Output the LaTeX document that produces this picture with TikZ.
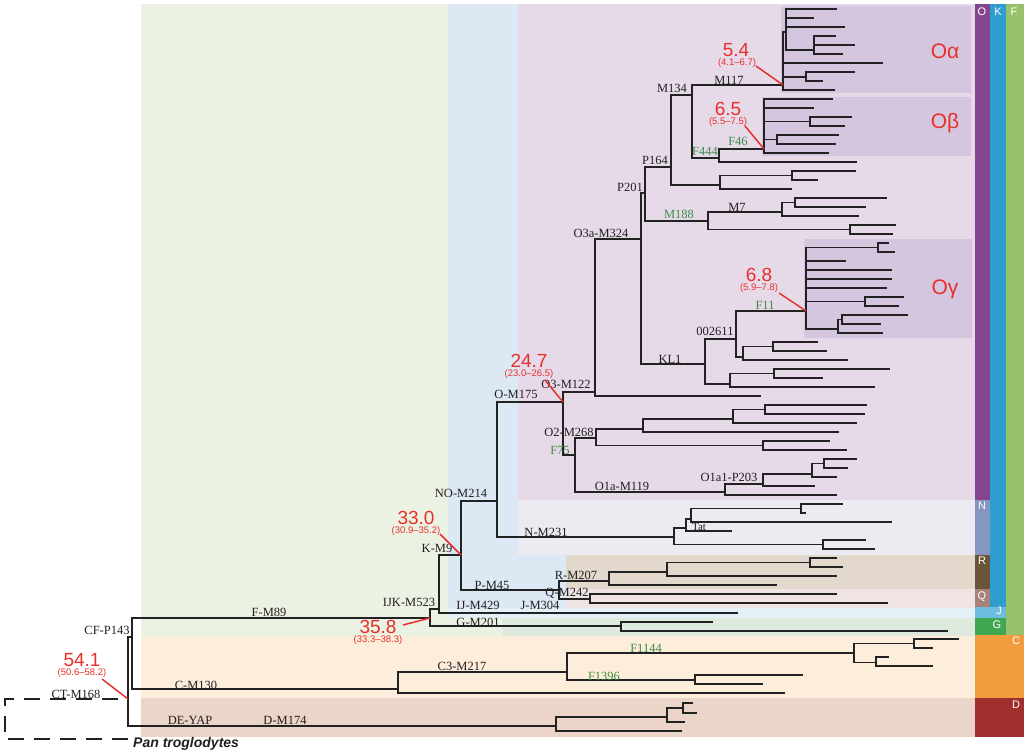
\documentclass[tikz,border=0pt]{standalone}
\usepackage{fontspec}
\setmainfont{Liberation Serif}
\newfontfamily\arialf{Liberation Sans}
\definecolor{bgF}{HTML}{EBF1E3}
\definecolor{bgK}{HTML}{DDE8F5}
\definecolor{bgO}{HTML}{E6DAE9}
\definecolor{bgSub}{HTML}{D5C6DF}
\definecolor{bgN}{HTML}{EBEBF1}
\definecolor{bgR}{HTML}{E2D8CB}
\definecolor{bgQ}{HTML}{EFE4E3}
\definecolor{bgJ}{HTML}{E3F1F7}
\definecolor{bgG}{HTML}{DFEADF}
\definecolor{bgC}{HTML}{FDEEDB}
\definecolor{bgD}{HTML}{EBD5C8}
\definecolor{barO}{HTML}{84468F}
\definecolor{barK}{HTML}{2F9DD0}
\definecolor{barF}{HTML}{98C16B}
\definecolor{barN}{HTML}{8597BE}
\definecolor{barR}{HTML}{6A5538}
\definecolor{barQ}{HTML}{A6827A}
\definecolor{barJ}{HTML}{6DBEDE}
\definecolor{barG}{HTML}{3FA652}
\definecolor{barC}{HTML}{F19C3D}
\definecolor{barD}{HTML}{A0302D}
\definecolor{redc}{HTML}{E8302A}
\definecolor{labg}{HTML}{3E8C45}
\definecolor{labc}{HTML}{231F20}
\definecolor{treec}{HTML}{222222}
\newcounter{lfc}
\newcommand\TNode[3]{\coordinate (#1) at (#2,#3);}
\newcommand\TEdge[2]{\draw[tree] (#1) |- (#2);}
\newcommand\TLeaf[3]{\stepcounter{lfc}\coordinate (leaf\arabic{lfc}) at (#2,#3);\draw[tree] (#1) |- (leaf\arabic{lfc});}
\begin{document}
\begin{tikzpicture}[x=1pt,y=-1pt,
  tree/.style={line width=1.8pt, draw=treec},
  lab/.style={font=\fontsize{12.5}{14}\selectfont, text=labc, inner sep=0pt},
  glab/.style={lab, text=labg},
  datev/.style={font=\arialf\fontsize{19}{20}\selectfont, text=redc, inner sep=0pt},
  dater/.style={font=\arialf\fontsize{9.5}{10}\selectfont, text=redc, inner sep=0pt},
  redln/.style={draw=redc, line width=1.5pt},
  clab/.style={font=\arialf\fontsize{21}{22}\selectfont, text=redc, inner sep=0pt},
  blab/.style={font=\arialf\fontsize{11}{12}\selectfont, text=white, inner sep=0pt},
  dashln/.style={draw=treec, line width=1.8pt, dash pattern=on 16pt off 10pt}]
\useasboundingbox[fill=white] (0,0) rectangle (1024,754);
% backgrounds
\fill[bgF] (141,4) rectangle (975,636);
\fill[bgK] (448,4) rectangle (975,608);
\fill[bgO] (518,4) rectangle (975,500);
\fill[bgN] (518,500) rectangle (975,555);
\fill[bgR] (566,555) rectangle (975,589);
\fill[bgQ] (566,589) rectangle (975,608);
\fill[bgJ] (448,608) rectangle (975,618);
\fill[bgG] (502,618) rectangle (975,636);
\fill[bgC] (141,636) rectangle (975,698);
\fill[bgD] (141,698) rectangle (975,737);
\fill[bgSub] (781,6) rectangle (971,93);
\fill[bgSub] (762,97) rectangle (971,156);
\fill[bgSub] (804,239) rectangle (972,338);
% side bars
\fill[barO] (975,4) rectangle (990,500);
\fill[barN] (975,500) rectangle (990,555);
\fill[barR] (975,555) rectangle (990,589);
\fill[barQ] (975,589) rectangle (990,607);
\fill[barK] (990,4) rectangle (1006,607);
\fill[barJ] (975,607) rectangle (1006,618);
\fill[barG] (975,618) rectangle (1006,635);
\fill[barF] (1006,4) rectangle (1024,635);
\fill[barC] (975,635) rectangle (1024,698);
\fill[barD] (975,698) rectangle (1024,737);
\node[blab] (bO) at (982,12) {O};
\node[blab] (bK) at (998,12) {K};
\node[blab] (bF) at (1014,12) {F};
\node[blab] (bN) at (982,506) {N};
\node[blab] (bR) at (982,561) {R};
\node[blab] (bQ) at (982,597) {Q};
\node[blab] (bJ) at (999,611) {J};
\node[blab] (bG) at (997,625) {G};
\node[blab] (bC) at (1016,641) {C};
\node[blab] (bD) at (1016,705) {D};
% internal nodes
\TNode{rootc}{5}{719}
\TNode{ct}{128}{699}
\TNode{pan}{128}{739}
\TNode{cf}{132}{637}
\TNode{fn}{430}{618}
\TNode{ijk}{439}{609}
\TNode{kn}{461}{555}
\TNode{non}{497}{501}
\TNode{on}{563}{402}
\TNode{o3}{595}{392}
\TNode{o3a}{641}{239}
\TNode{p201}{645}{193}
\TNode{p164}{671}{167}
\TNode{m134}{692}{95}
\TNode{oa}{783}{85}
\TNode{oa1}{786}{32}
\TNode{oa11}{814}{50}
\TNode{oa2}{806}{77}
\TNode{f444}{719}{158}
\TNode{f46}{764}{149}
\TNode{ob1}{810}{121.5}
\TNode{ob2}{777}{139.5}
\TNode{n720}{720}{185}
\TNode{n792}{792}{175.5}
\TNode{m188}{708}{221}
\TNode{m7}{782}{212}
\TNode{n795}{795}{202.5}
\TNode{n850}{850}{229.5}
\TNode{kl1}{705}{364}
\TNode{n2611}{736}{339}
\TNode{f11}{806}{311}
\TNode{g1}{878}{247.5}
\TNode{g2}{865}{301.5}
\TNode{g3}{838}{329}
\TNode{g31}{842}{319.5}
\TNode{n743}{743}{357}
\TNode{n773}{773}{346.5}
\TNode{n730}{730}{384}
\TNode{n774}{774}{373.5}
\TNode{o2}{575}{455}
\TNode{n596}{596}{438}
\TNode{n643}{643}{429}
\TNode{n733}{733}{419}
\TNode{n765}{765}{409.5}
\TNode{n763b}{763}{445.5}
\TNode{o1a}{725}{492}
\TNode{n763c}{763}{484}
\TNode{n812}{812}{474}
\TNode{n824}{824}{463.5}
\TNode{nn}{674}{537}
\TNode{n686}{686}{528}
\TNode{n691}{691}{519}
\TNode{n801}{801}{508.5}
\TNode{n823}{823}{544.5}
\TNode{pn}{559}{590}
\TNode{rn}{609}{581}
\TNode{n667}{667}{572}
\TNode{n810}{810}{562.5}
\TNode{qn}{590}{599}
\TNode{gn}{621}{626}
\TNode{cn}{398}{689}
\TNode{c3}{567}{672}
\TNode{n854}{854}{653}
\TNode{n914}{914}{643.5}
\TNode{n876}{876}{662.5}
\TNode{n695}{695}{680}
\TNode{dn}{556}{726}
\TNode{n667d}{667}{717}
\TNode{n683}{683}{708}
% outgroup dashed
\draw[dashln] (pan) -| (rootc) |- (ct);
% edges
\TEdge{ct}{cf} \TEdge{ct}{dn}
\TEdge{cf}{fn} \TEdge{cf}{cn}
\TEdge{fn}{ijk} \TEdge{fn}{gn}
\TEdge{ijk}{kn} \TLeaf{ijk}{738}{613}
\TEdge{kn}{non} \TEdge{kn}{pn}
\TEdge{non}{on} \TEdge{non}{nn}
\TEdge{on}{o3} \TEdge{on}{o2}
\TEdge{o3}{o3a} \TLeaf{o3}{761}{396}
\TEdge{o3a}{p201} \TEdge{o3a}{kl1}
\TEdge{p201}{p164} \TEdge{p201}{m188}
\TEdge{p164}{m134} \TEdge{p164}{n720}
\TEdge{m134}{oa} \TEdge{m134}{f444}
\TEdge{oa}{oa1} \TLeaf{oa}{883}{63} \TEdge{oa}{oa2} \TLeaf{oa}{835}{90}
\TLeaf{oa1}{837}{9} \TLeaf{oa1}{814}{18} \TLeaf{oa1}{845}{27} \TEdge{oa1}{oa11}
\TLeaf{oa11}{836}{36} \TLeaf{oa11}{855}{45} \TLeaf{oa11}{843}{54}
\TLeaf{oa2}{855}{72} \TLeaf{oa2}{823}{81}
\TEdge{f444}{f46} \TLeaf{f444}{857}{162}
\TLeaf{f46}{833}{99} \TLeaf{f46}{814}{108} \TEdge{f46}{ob1} \TEdge{f46}{ob2} \TLeaf{f46}{829}{153}
\TLeaf{ob1}{852}{117} \TLeaf{ob1}{845}{126}
\TLeaf{ob2}{839}{135} \TLeaf{ob2}{836}{144}
\TEdge{n720}{n792} \TLeaf{n720}{792}{189}
\TLeaf{n792}{856}{171} \TLeaf{n792}{818}{180}
\TEdge{m188}{m7} \TEdge{m188}{n850}
\TEdge{m7}{n795} \TLeaf{m7}{859}{216}
\TLeaf{n795}{887}{198} \TLeaf{n795}{866}{207}
\TLeaf{n850}{896}{225} \TLeaf{n850}{893}{234}
\TEdge{kl1}{n2611} \TEdge{kl1}{n730}
\TEdge{n2611}{f11} \TEdge{n2611}{n743}
\TEdge{f11}{g1} \TLeaf{f11}{846}{261} \TLeaf{f11}{892}{270} \TLeaf{f11}{892}{279} \TLeaf{f11}{887}{288} \TEdge{f11}{g2} \TEdge{f11}{g3}
\TLeaf{g1}{889}{243} \TLeaf{g1}{895}{252}
\TLeaf{g2}{904}{297} \TLeaf{g2}{899}{306}
\TEdge{g3}{g31} \TLeaf{g3}{883}{333}
\TLeaf{g31}{908}{315} \TLeaf{g31}{881}{324}
\TEdge{n743}{n773} \TLeaf{n743}{848}{360}
\TLeaf{n773}{818}{342} \TLeaf{n773}{827}{351}
\TEdge{n730}{n774} \TLeaf{n730}{875}{387}
\TLeaf{n774}{890}{369} \TLeaf{n774}{823}{378}
\TEdge{o2}{n596} \TEdge{o2}{o1a}
\TEdge{n596}{n643} \TEdge{n596}{n763b}
\TEdge{n643}{n733} \TLeaf{n643}{839}{432}
\TEdge{n733}{n765} \TLeaf{n733}{857}{423}
\TLeaf{n765}{867}{405} \TLeaf{n765}{865}{414}
\TLeaf{n763b}{830}{441} \TLeaf{n763b}{847}{450}
\TEdge{o1a}{n763c} \TLeaf{o1a}{837}{495}
\TEdge{n763c}{n812} \TLeaf{n763c}{815}{486}
\TEdge{n812}{n824} \TLeaf{n812}{837}{477}
\TLeaf{n824}{857}{459} \TLeaf{n824}{848}{468}
\TEdge{nn}{n686} \TEdge{nn}{n823}
\TEdge{n686}{n691} \TLeaf{n686}{732}{531}
\TEdge{n691}{n801} \TLeaf{n691}{892}{522}
\TLeaf{n801}{843}{504} \TLeaf{n801}{806}{513}
\TLeaf{n823}{866}{540} \TLeaf{n823}{875}{549}
\TEdge{pn}{rn} \TEdge{pn}{qn}
\TEdge{rn}{n667} \TLeaf{rn}{777}{585}
\TEdge{n667}{n810} \TLeaf{n667}{837}{576}
\TLeaf{n810}{837}{558} \TLeaf{n810}{843}{567}
\TLeaf{qn}{837}{594} \TLeaf{qn}{888}{603}
\TLeaf{gn}{713}{622} \TLeaf{gn}{948}{631}
\TEdge{cn}{c3} \TLeaf{cn}{785}{693}
\TEdge{c3}{n854} \TEdge{c3}{n695}
\TEdge{n854}{n914} \TEdge{n854}{n876}
\TLeaf{n914}{959}{639} \TLeaf{n914}{933}{648}
\TLeaf{n876}{889}{657} \TLeaf{n876}{933}{666}
\TLeaf{n695}{803}{675} \TLeaf{n695}{763}{684}
\TEdge{dn}{n667d} \TLeaf{dn}{682}{731}
\TEdge{n667d}{n683} \TLeaf{n667d}{685}{722}
\TLeaf{n683}{693}{703} \TLeaf{n683}{697}{713}
% branch labels
\node[lab] (lM117) at (729,80) {M117};
\node[lab] (lM134) at (672,88) {M134};
\node[glab] (lF444) at (705,151) {F444};
\node[glab] (lF46) at (738,141) {F46};
\node[lab] (lP164) at (655,160) {P164};
\node[lab] (lP201) at (630,187) {P201};
\node[glab] (lM188) at (679,214) {M188};
\node[lab] (lM7) at (737,207) {M7};
\node[lab] (lO3a) at (601,233) {O3a-M324};
\node[glab] (lF11) at (765,305) {F11};
\node[lab] (l2611) at (715,331) {002611};
\node[lab] (lKL1) at (670,359) {KL1};
\node[lab] (lO3) at (566,384) {O3-M122};
\node[lab] (lO) at (516,394) {O-M175};
\node[lab] (lO2) at (569,432) {O2-M268};
\node[glab] (lF75) at (560,450) {F75};
\node[lab] (lO1a) at (622,486) {O1a-M119};
\node[lab] (lO1a1) at (729,477) {O1a1-P203};
\node[lab] (lNO) at (461,493) {NO-M214};
\node[lab] (lN) at (546,532) {N-M231};
\node[lab, font=\fontsize{11}{12}\selectfont] (lTat) at (699,527) {Tat};
\node[lab] (lK) at (437,548) {K-M9};
\node[lab] (lR) at (576,575) {R-M207};
\node[lab] (lP) at (492,585) {P-M45};
\node[lab] (lQ) at (567,593) {Q-M242};
\node[lab] (lIJK) at (409,602) {IJK-M523};
\node[lab] (lIJ) at (478,605) {IJ-M429};
\node[lab] (lJ) at (540,605) {J-M304};
\node[lab] (lG) at (478,622) {G-M201};
\node[lab] (lF) at (269,612) {F-M89};
\node[lab] (lCF) at (107,630) {CF-P143};
\node[lab] (lC3) at (462,666) {C3-M217};
\node[glab] (lF1144) at (646,648) {F1144};
\node[glab] (lF1396) at (604,676) {F1396};
\node[lab] (lC) at (196,685) {C-M130};
\node[lab] (lCT) at (76,694) {CT-M168};
\node[lab] (lDE) at (190,720) {DE-YAP};
\node[lab] (lD) at (285,720) {D-M174};
\node[anchor=base west, inner sep=0pt, text=labc, font=\arialf\bfseries\itshape\fontsize{14}{16}\selectfont] (lPan) at (133,747) {Pan troglodytes};
% clade labels
\node[clab] (cOa) at (945,51) {Oα};
\node[clab] (cOb) at (945,123) {Oβ};
\node[clab] (cOg) at (945,289) {Oγ};
% dates
\node[datev] (d54) at (736,50) {5.4};
\node[dater] (r54) at (737,63) {(4.1–6.7)};
\coordinate (s54) at (756,66);
\draw[redln] (s54) -- (oa);
\node[datev] (d65) at (728,109) {6.5};
\node[dater] (r65) at (728,122) {(5.5–7.5)};
\coordinate (s65) at (745,126);
\draw[redln] (s65) -- (f46);
\node[datev] (d68) at (759,275) {6.8};
\node[dater] (r68) at (759,288) {(5.9–7.8)};
\coordinate (s68) at (779,293);
\draw[redln] (s68) -- (f11);
\node[datev] (d247) at (529,361) {24.7};
\node[dater] (r247) at (529,374) {(23.0–26.5)};
\coordinate (s247) at (545,380);
\draw[redln] (s247) -- (on);
\node[datev] (d330) at (416,518) {33.0};
\node[dater] (r330) at (416,531) {(30.9–35.2)};
\coordinate (s330) at (440,534);
\draw[redln] (s330) -- (kn);
\node[datev] (d358) at (378,627) {35.8};
\node[dater] (r358) at (378,640) {(33.3–38.3)};
\coordinate (s358) at (403,625);
\draw[redln] (s358) -- (fn);
\node[datev] (d541) at (82,660) {54.1};
\node[dater] (r541) at (82,673) {(50.6–58.2)};
\coordinate (s541) at (102,679);
\draw[redln] (s541) -- (ct);
\end{tikzpicture}
\end{document}
